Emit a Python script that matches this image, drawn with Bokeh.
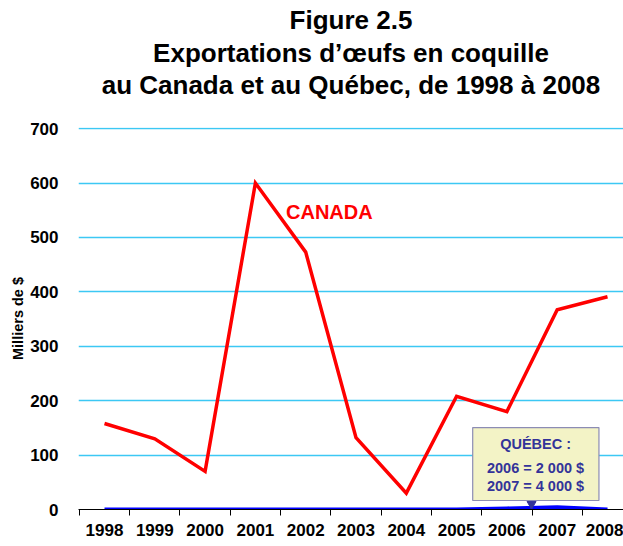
from bokeh.plotting import figure
from bokeh.models import FixedTicker, Title, Range1d
from bokeh.core.properties import value
from bokeh.embed import file_html
from bokeh.resources import INLINE

years = [1998, 1999, 2000, 2001, 2002, 2003, 2004, 2005, 2006, 2007, 2008]
canada = [158, 130, 70, 600, 473, 132, 30, 208, 180, 367, 391]
quebec = [0, 0, 0, 0, 0, 0, 0, 0, 2, 4, 0]
y_ticks = [0, 100, 200, 300, 400, 500, 600, 700]
title_lines = ["Figure 2.5",
               "Exportations d\u2019\u0153ufs en coquille",
               "au Canada et au Qu\u00e9bec, de 1998 \u00e0 2008"]
y_label = "Milliers de $"
canada_label = "CANADA"
quebec_note = ["QU\u00c9BEC :", "2006 = 2 000 $", "2007 = 4 000 $"]

FONT = "Liberation Sans"
NOTE_COLOR = "#333399"

p = figure(width=623, height=546, output_backend="svg", toolbar_location=None,
           x_range=Range1d(1997.483, 2008.318), y_range=Range1d(0, 702),
           min_border_left=78, min_border_right=0, min_border_top=127,
           min_border_bottom=37)
p.title.visible = False
p.outline_line_color = None
p.background_fill_color = "white"
p.border_fill_color = "white"

# blank spacer between titles and plot frame
p.add_layout(Title(text="\u00a0", text_font_size="10px", text_color="white",
                   standoff=15), "above")
# titles (first added = closest to plot)
for txt, so in zip(reversed(title_lines), [0, 0, 2]):
    p.add_layout(Title(text=txt, align="center", text_font=FONT,
                       text_font_size="26px", text_font_style="bold",
                       text_color="black", standoff=so), "above")

# x axis
xa = p.xaxis[0]
xa.ticker = FixedTicker(ticks=years, minor_ticks=[y - 0.5 for y in years] + [years[-1] + 0.5])
xa.major_tick_in = 0
xa.major_tick_out = 0
xa.minor_tick_in = 0
xa.minor_tick_out = 6
xa.minor_tick_line_color = "black"
xa.axis_line_color = "black"
xa.axis_line_width = 1
xa.major_label_standoff = 8
xa.major_label_text_font = FONT
xa.major_label_text_font_size = "17px"
xa.major_label_text_font_style = "bold"
xa.major_label_text_color = "black"
p.xgrid.visible = False

# y axis
ya = p.yaxis[0]
ya.ticker = FixedTicker(ticks=y_ticks)
ya.axis_line_color = None
ya.major_tick_line_color = None
ya.minor_tick_line_color = None
ya.major_label_standoff = 14
ya.major_label_text_font = FONT
ya.major_label_text_font_size = "17px"
ya.major_label_text_font_style = "bold"
ya.major_label_text_color = "black"
ya.axis_label = y_label
ya.axis_label_text_font = FONT
ya.axis_label_text_font_size = "14.5px"
ya.axis_label_text_font_style = "bold"
ya.axis_label_text_color = "black"
ya.axis_label_standoff = 1
p.ygrid.ticker = FixedTicker(ticks=y_ticks)
p.ygrid.grid_line_color = "#3CC8F4"
p.ygrid.grid_line_width = 1.5

# series
p.line(years, canada, line_color="#FF0000", line_width=3.5, line_join="miter")
p.line(years, quebec, line_color="#0000FF", line_width=4)

# CANADA label
p.text(x=[2002.47], y=[547], text=[canada_label], text_font=value(FONT),
       text_font_size="20px", text_font_style="bold", text_color="#FF0000",
       text_align="center", text_baseline="middle")

# Quebec callout
p.quad(left=[2005.32], right=[2007.83], top=[150.6], bottom=[16.5],
       fill_color="#F3F3C6", line_color="#8C8CB4", line_width=1.2)
p.scatter(x=[2006.49], y=[10], marker="inverted_triangle", size=9,
          color=NOTE_COLOR)
p.text(x=[2006.57] * 3, y=[121, 77, 44], text=quebec_note, text_font=value(FONT),
       text_font_size="14.5px", text_font_style="bold", text_color=NOTE_COLOR,
       text_align="center", text_baseline="middle")

open("out.html", "w").write(file_html(p, INLINE))
